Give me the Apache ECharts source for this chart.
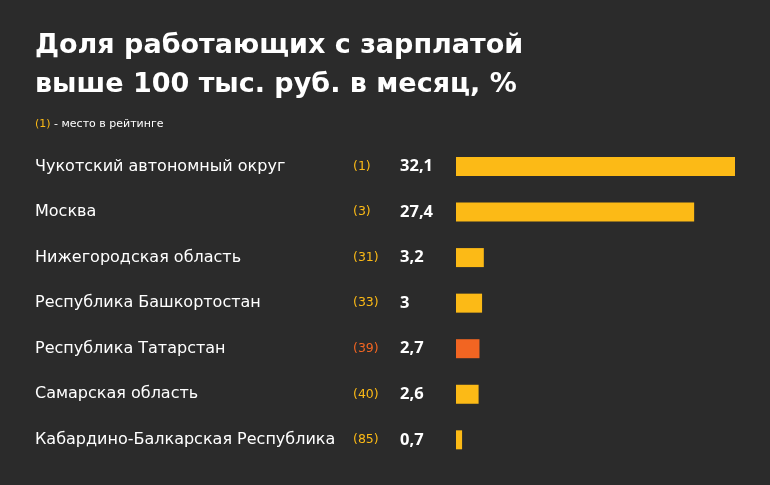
<!DOCTYPE html>
<html><head><meta charset="utf-8">
<script src="https://cdn.jsdelivr.net/npm/echarts@6/dist/echarts.min.js"></script>
<style>html,body{margin:0;padding:0;background:#2b2b2b;}#c{width:770px;height:485px;}</style>
</head><body><div id="c"></div>
<script>
const regions = ['Чукотский автономный округ','Москва','Нижегородская область','Республика Башкортостан','Республика Татарстан','Самарская область','Кабардино-Балкарская Республика'];
const ranks = [1,3,31,33,39,40,85];
const values = [32.1,27.4,3.2,3,2.7,2.6,0.7];
const highlight = 'Республика Татарстан';
const titleLines = ['Доля работающих с зарплатой','выше 100 тыс. руб. в месяц, %'];

const YEL = '#FCBA16', ORG = '#F26522';
const FONT = 'DejaVu Sans';
const fmt = v => String(v).replace('.', ',');

const chart = echarts.init(document.getElementById('c'), null, {renderer:'canvas'});
chart.setOption({
  backgroundColor:'#2b2b2b',
  animation:false,
  title:[
    {text: titleLines.join('\n'), left:30, top:21, textStyle:{color:'#fff', fontFamily:FONT, fontWeight:'bold', fontSize:27, lineHeight:39}},
    {text:'{r|(1)}{t| - место в рейтинге}', left:30, top:114, textStyle:{rich:{
      r:{color:YEL, fontFamily:FONT, fontSize:11, fontWeight:'normal'},
      t:{color:'#fff', fontFamily:FONT, fontSize:11, fontWeight:'normal'}}}}
  ],
  grid:{left:456, right:35, top:143.7, height:318.9, containLabel:false},
  xAxis:{type:'value', min:0, max:32.1, show:false},
  yAxis:{type:'category', inverse:true, data:regions,
    axisLine:{show:false}, axisTick:{show:false}, splitLine:{show:false},
    axisLabel:{margin:6, align:'right',
      formatter:(v, i) => {
        const rs = regions[i] === highlight ? 'ro' : 'r';
        return '{n|' + v + '}{' + rs + '|(' + ranks[i] + ')}{v|' + fmt(values[i]) + '}';
      },
      rich:{
        n:{width:318, align:'left', color:'#fff', fontFamily:FONT, fontSize:16},
        r:{width:47, align:'left', color:YEL, fontFamily:FONT, fontSize:12.5},
        ro:{width:47, align:'left', color:ORG, fontFamily:FONT, fontSize:12.5},
        v:{width:50, align:'left', color:'#fff', fontFamily:'Noto Sans', fontSize:16.5, fontWeight:'bold'}
      }}
  },
  series:[{type:'bar', barWidth:19,
    data: values.map((v,i)=>({value:v, itemStyle:{color: regions[i]===highlight ? ORG : YEL}}))
  }]
});
</script></body></html>
